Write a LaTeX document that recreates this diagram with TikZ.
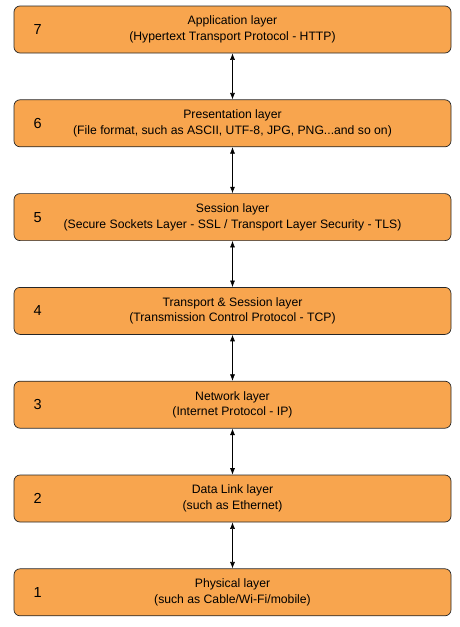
\documentclass[tikz,border=0pt]{standalone}
\usepackage{fontspec}
\setmainfont{Liberation Sans}
\usetikzlibrary{positioning}
\usetikzlibrary{arrows.meta}

\definecolor{layerorange}{HTML}{F8A54E}

\tikzset{
	layer/.style={draw=black!85,line width=0.7pt,rounded corners=6pt,fill=layerorange,minimum width=437pt,minimum height=47pt,inner sep=0pt,align=center,font=\fontsize{12.2}{15.5}\selectfont},
	layernum/.style={font=\fontsize{14.5}{15}\selectfont},
	link/.style={{Latex[length=6.5pt,width=5pt]}-{Latex[length=6.5pt,width=5pt]},line width=0.6pt}
}

\begin{document}
\begin{tikzpicture}[x=1pt,y=1pt]
		\useasboundingbox (0,0) rectangle (460,-627);
		
		% the seven layers
		\node[layer] (L7) at (232.5,-29.5) {Application layer\\(Hypertext Transport Protocol - HTTP)};
		\node[layer,below=46.1pt of L7] (L6) {Presentation layer\\(File format, such as ASCII, UTF-8, JPG, PNG...and so on)};
		\node[layer,below=46.1pt of L6] (L5) {Session layer\\(Secure Sockets Layer - SSL / Transport Layer Security - TLS)};
		\node[layer,below=46.1pt of L5] (L4) {Transport \& Session layer\\(Transmission Control Protocol - TCP)};
		\node[layer,below=46.1pt of L4] (L3) {Network layer\\(Internet Protocol - IP)};
		\node[layer,below=46.1pt of L3] (L2) {Data Link layer\\(such as Ethernet)};
		\node[layer,below=46.1pt of L2] (L1) {Physical layer\\(such as Cable/Wi-Fi/mobile)};
		
		% layer numbers
		\node[layernum] (N7) at ([xshift=24pt]L7.west) {7};
		\node[layernum] (N6) at ([xshift=24pt]L6.west) {6};
		\node[layernum] (N5) at ([xshift=24pt]L5.west) {5};
		\node[layernum] (N4) at ([xshift=24pt]L4.west) {4};
		\node[layernum] (N3) at ([xshift=24pt]L3.west) {3};
		\node[layernum] (N2) at ([xshift=24pt]L2.west) {2};
		\node[layernum] (N1) at ([xshift=24pt]L1.west) {1};
		
		% links between layers
		\draw[link] (L7.south) -- (L6.north);
		\draw[link] (L6.south) -- (L5.north);
		\draw[link] (L5.south) -- (L4.north);
		\draw[link] (L4.south) -- (L3.north);
		\draw[link] (L3.south) -- (L2.north);
		\draw[link] (L2.south) -- (L1.north);
	\end{tikzpicture}
\end{document}
